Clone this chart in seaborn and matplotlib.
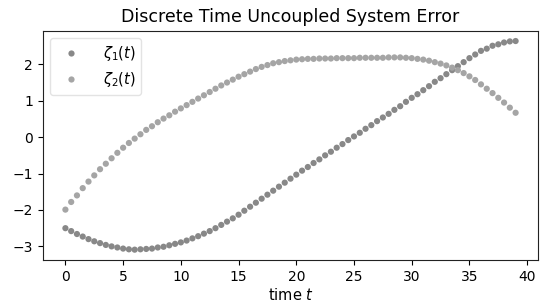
import numpy as np
import pandas as pd
import seaborn as sns
import matplotlib.pyplot as plt

# tiempo discreto, paso 0.5
t = np.arange(0, 39.5, 0.5)

zeta1 = [-2.50, -2.58, -2.66, -2.73, -2.80, -2.86, -2.91, -2.96, -3.00, -3.03,
         -3.06, -3.08, -3.09, -3.08, -3.07, -3.06, -3.03, -3.01, -2.97, -2.93,
         -2.89, -2.84, -2.78, -2.72, -2.65, -2.58, -2.50, -2.41, -2.32, -2.23,
         -2.13, -2.02, -1.91, -1.80, -1.69, -1.58, -1.47, -1.36, -1.25, -1.14,
         -1.03, -0.92, -0.82, -0.71, -0.61, -0.50, -0.40, -0.29, -0.19, -0.08,
         0.02, 0.12, 0.23, 0.33, 0.44, 0.54, 0.64, 0.75, 0.85, 0.97,
         1.08, 1.18, 1.29, 1.40, 1.52, 1.62, 1.73, 1.84, 1.95, 2.06,
         2.17, 2.27, 2.37, 2.43, 2.51, 2.55, 2.60, 2.63, 2.64]

zeta2 = [-1.99, -1.78, -1.60, -1.40, -1.22, -1.05, -0.88, -0.73, -0.58, -0.43,
         -0.29, -0.16, -0.04, 0.08, 0.20, 0.30, 0.41, 0.51, 0.60, 0.70,
         0.79, 0.88, 0.97, 1.06, 1.15, 1.24, 1.33, 1.42, 1.50, 1.58,
         1.66, 1.73, 1.80, 1.87, 1.93, 1.98, 2.03, 2.06, 2.09, 2.11,
         2.13, 2.14, 2.15, 2.15, 2.16, 2.16, 2.16, 2.17, 2.17, 2.17,
         2.17, 2.18, 2.18, 2.18, 2.18, 2.18, 2.19, 2.19, 2.19, 2.18,
         2.17, 2.15, 2.13, 2.10, 2.06, 2.02, 1.97, 1.91, 1.84, 1.76,
         1.67, 1.57, 1.45, 1.33, 1.21, 1.08, 0.95, 0.81, 0.67]

labels = [r'$\zeta_1(t)$', r'$\zeta_2(t)$']

df = pd.DataFrame({
    't': np.concatenate([t, t]),
    'valor': zeta1 + zeta2,
    'serie': [labels[0]] * len(t) + [labels[1]] * len(t),
})

sns.set_style("ticks")
plt.rcParams['font.family'] = ['DejaVu Sans']
plt.rcParams['text.color'] = 'black'
plt.rcParams['xtick.color'] = 'black'
plt.rcParams['ytick.color'] = 'black'
plt.rcParams['axes.labelcolor'] = 'black'

fig, ax = plt.subplots(figsize=(5.43, 3.06), dpi=100)
sns.scatterplot(data=df, x='t', y='valor', hue='serie',
                palette=['#888888', '#a5a5a5'], s=20, linewidth=0, ax=ax)

ax.set_title('Discrete Time Uncoupled System Error', fontsize=12.5)
ax.set_xlabel('time $t$', fontsize=10.5, labelpad=2)
ax.set_ylabel('')
ax.set_xticks(range(0, 41, 5))
ax.tick_params(labelsize=10, colors='black')
for s in ax.spines.values():
    s.set_color('#222222')
leg = ax.legend(loc='upper left', fontsize=10.5, handletextpad=1.2)
leg.get_frame().set_edgecolor('#dddddd')

fig.subplots_adjust(left=0.079, right=0.991, bottom=0.15, top=0.9)
fig.savefig('out.png')
